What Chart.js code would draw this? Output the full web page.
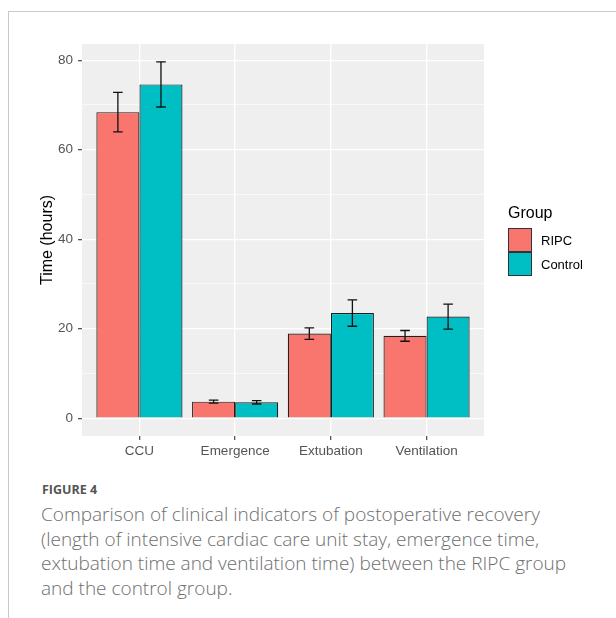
<!DOCTYPE html>
<html>
<head>
<meta charset="utf-8">
<script src="https://cdn.jsdelivr.net/npm/chart.js@4.4.1/dist/chart.umd.min.js"></script>
<style>
  html, body { margin: 0; padding: 0; background: #fff; }
  body { width: 616px; height: 618px; position: relative; overflow: hidden; }
  #frame { position: absolute; left: 8px; top: 11px; right: 0; bottom: 0;
           border-top: 1px solid #c9c9c9; border-left: 1px solid #c9c9c9; }
  #wrap { position: absolute; left: 0; top: 0; width: 616px; height: 470px; }
  #fig { position: absolute; left: 42px; top: 481px; font-family: "Open Sans", sans-serif;
         font-weight: 700; font-size: 12.5px; color: #555; }
  #caption { position: absolute; left: 41px; top: 502px; width: 575px; white-space: nowrap;
             font-family: "Open Sans", sans-serif; font-weight: 300; font-size: 19px;
             line-height: 24.5px; color: #6e6e6e; }
</style>
</head>
<body>
<div id="frame"></div>
<div id="wrap"><canvas id="recovery_bar" width="616" height="470"></canvas></div>
<div id="fig">FIGURE 4</div>
<div id="caption">Comparison of clinical indicators of postoperative recovery<br>(length of intensive cardiac care unit stay, emergence time,<br>extubation time and ventilation time) between the RIPC group<br>and the control group.</div>
<script>
var categories = ["CCU", "Emergence", "Extubation", "Ventilation"];
var ripcMean = [68.4, 3.7, 18.9, 18.4];
var ripcSE = [4.4, 0.35, 1.3, 1.2];
var controlMean = [74.6, 3.55, 23.5, 22.7];
var controlSE = [5.05, 0.38, 2.95, 2.8];
var yTicks = [0, 20, 40, 60, 80];

var tickFont = { family: "Liberation Sans", size: 13.5 };

// ggplot style: 5% expansion of the data range (incl. error bars)
var topVal = Math.max.apply(null, ripcMean.map(function(m, i) { return m + ripcSE[i]; })
  .concat(controlMean.map(function(m, i) { return m + controlSE[i]; })));
var pad = topVal * 0.05;

function toPoints(vals) {
  return vals.map(function(v, i) { return { x: i + 1, y: v }; });
}

var dataRipc = {
  label: "RIPC",
  data: toPoints(ripcMean),
  se: ripcSE,
  backgroundColor: "#F8766D",
  borderColor: "#1f1f1f",
  borderWidth: 1.2,
  categoryPercentage: 0.9,
  barPercentage: 1.0
};

var dataControl = {
  label: "Control",
  data: toPoints(controlMean),
  se: controlSE,
  backgroundColor: "#00BFC4",
  borderColor: "#1f1f1f",
  borderWidth: 1.2,
  categoryPercentage: 0.9,
  barPercentage: 1.0
};

// panel background + error bars + legend
var ggPlugin = {
  id: "gg",
  beforeDraw: function(chart) {
    var a = chart.chartArea, ctx = chart.ctx;
    ctx.save();
    ctx.fillStyle = "#efefef";
    ctx.fillRect(a.left, a.top, a.right - a.left, a.bottom - a.top);
    ctx.restore();
  },
  afterDatasetsDraw: function(chart) {
    var ctx = chart.ctx, xs = chart.scales.x, ys = chart.scales.y;
    var half = xs.getPixelForValue(0.05) - xs.getPixelForValue(0);
    ctx.save();
    ctx.strokeStyle = "#111";
    ctx.lineWidth = 1.3;
    chart.data.datasets.forEach(function(ds, di) {
      chart.getDatasetMeta(di).data.forEach(function(bar, i) {
        var m = ds.data[i].y, s = ds.se[i];
        var y1 = ys.getPixelForValue(m + s), y2 = ys.getPixelForValue(m - s);
        ctx.beginPath();
        ctx.moveTo(bar.x, y1); ctx.lineTo(bar.x, y2);
        ctx.moveTo(bar.x - half, y1); ctx.lineTo(bar.x + half, y1);
        ctx.moveTo(bar.x - half, y2); ctx.lineTo(bar.x + half, y2);
        ctx.stroke();
      });
    });
    ctx.restore();
  },
  afterDraw: function(chart) {
    var ctx = chart.ctx;
    var lx = 508, ly = 228, key = 24;
    ctx.save();
    ctx.fillStyle = "#000";
    ctx.font = "16px 'Liberation Sans'";
    ctx.textBaseline = "alphabetic";
    ctx.fillText("Group", lx, 218);
    chart.data.datasets.forEach(function(ds, di) {
      var y = ly + di * key;
      ctx.fillStyle = ds.backgroundColor;
      ctx.fillRect(lx, y, key, key);
      ctx.strokeStyle = "#333";
      ctx.lineWidth = 1;
      ctx.strokeRect(lx + 0.5, y + 0.5, key - 1, key - 1);
      ctx.fillStyle = "#000";
      ctx.font = "13px 'Liberation Sans'";
      ctx.textBaseline = "middle";
      ctx.fillText(ds.label, lx + 33, y + key / 2 + 1);
    });
    ctx.restore();
  }
};

var ctx = document.getElementById("recovery_bar");

new Chart(ctx, {
  type: "bar",
  data: { datasets: [dataRipc, dataControl] },
  options: {
    responsive: false,
    animation: false,
    layout: { padding: { left: 38, top: 44, right: 132, bottom: 4 } },
    plugins: { legend: { display: false }, tooltip: { enabled: false } },
    scales: {
      x: {
        type: "linear",
        min: 0.4,
        max: 4.6,
        offset: false,
        afterBuildTicks: function(scale) {
          scale.ticks = categories.map(function(c, i) { return { value: i + 1 }; });
        },
        afterFit: function(scale) { scale.height = 30; },
        border: { display: false },
        grid: { offset: false, color: "#ffffff", lineWidth: 1.3, tickLength: 4, tickColor: "#555" },
        ticks: {
          color: "#555", font: tickFont, padding: 3, autoSkip: false, maxRotation: 0,
          callback: function(v) { return categories[v - 1]; }
        }
      },
      y: {
        min: -pad,
        max: topVal + pad,
        afterBuildTicks: function(scale) {
          var t = [];
          for (var v = 0; v <= 80; v += 10) t.push({ value: v });
          scale.ticks = t;
        },
        afterFit: function(scale) { scale.width = 44; },
        border: { display: false },
        grid: {
          color: "#ffffff",
          lineWidth: function(c) { return yTicks.indexOf(c.tick.value) >= 0 ? 1.3 : 0.6; },
          tickLength: 4,
          tickColor: function(c) { return yTicks.indexOf(c.tick.value) >= 0 ? "#555" : "rgba(0,0,0,0)"; }
        },
        ticks: {
          color: "#555", font: tickFont, padding: 5,
          callback: function(v) { return yTicks.indexOf(v) >= 0 ? String(v) : ""; }
        },
        title: {
          display: true, text: "Time (hours)", color: "#000",
          font: { family: "Liberation Sans", size: 16 }, padding: 0
        }
      }
    }
  },
  plugins: [ggPlugin]
});
</script>
</body>
</html>
